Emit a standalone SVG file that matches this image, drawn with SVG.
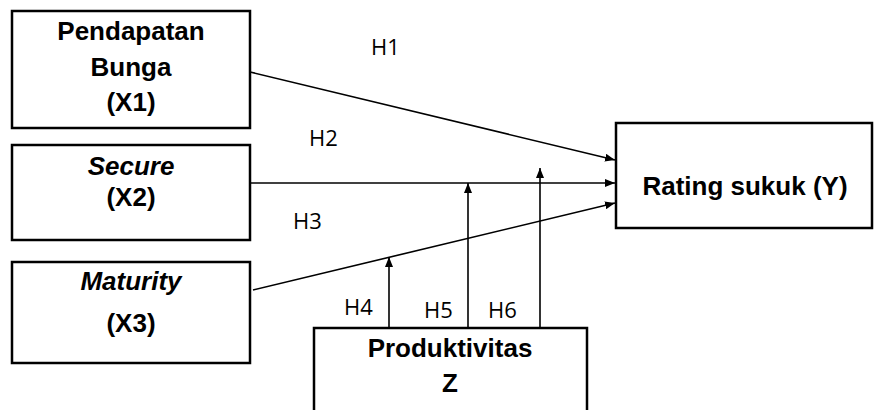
<svg xmlns="http://www.w3.org/2000/svg" width="874" height="410" viewBox="0 0 874 410">
<style>
.box{fill:#fff;stroke:#000;stroke-width:2.5}
.nt{font-family:"Liberation Sans",Arial,sans-serif;font-weight:bold;font-size:26px;text-anchor:middle;fill:#000}
.it{font-style:italic}
.lb{font-family:"Open Sans","Liberation Sans",sans-serif;font-size:22px;fill:#000}
.cn{stroke:#000;stroke-width:1.6;fill:none;marker-end:url(#ah)}
</style>
<defs>
<marker id="ah" viewBox="0 0 10 8" refX="10" refY="4" markerWidth="10" markerHeight="8" markerUnits="userSpaceOnUse" orient="auto">
<path d="M0,0 L10,4 L0,8 z" fill="#000"/>
</marker>
</defs>
<g id="x1"><rect class="box" x="12" y="11" width="238" height="117"/>
<text class="nt" x="131" y="40">Pendapatan</text>
<text class="nt" x="131" y="76">Bunga</text>
<text class="nt" x="131" y="111">(X1)</text></g>
<g id="x2"><rect class="box" x="12" y="145" width="238" height="95"/>
<text class="nt it" x="131" y="175">Secure</text>
<text class="nt" x="131" y="206">(X2)</text></g>
<g id="x3"><rect class="box" x="12" y="262" width="238" height="101"/>
<text class="nt it" x="131" y="290">Maturity</text>
<text class="nt" x="131" y="332">(X3)</text></g>
<g id="y"><rect class="box" x="616" y="123" width="256" height="105"/>
<text class="nt" x="745" y="195" font-size="27">Rating sukuk (Y)</text></g>
<g id="z"><rect class="box" x="314" y="328" width="273" height="90"/>
<text class="nt" x="450" y="357">Produktivitas</text>
<text class="nt" x="450" y="392">Z</text></g>
<g id="connectors">
<line class="cn" x1="250" y1="72" x2="615" y2="160"/>
<line class="cn" x1="250" y1="183" x2="615" y2="183"/>
<line class="cn" x1="253" y1="290" x2="615" y2="203"/>
<line class="cn" x1="389" y1="328" x2="389" y2="257"/>
<line class="cn" x1="468" y1="328" x2="468" y2="183"/>
<line class="cn" x1="540" y1="328" x2="540" y2="168"/>
</g>
<g id="labels">
<text class="lb" x="371" y="55">H1</text>
<text class="lb" x="309" y="146">H2</text>
<text class="lb" x="293" y="229">H3</text>
<text class="lb" x="344" y="315">H4</text>
<text class="lb" x="424" y="318">H5</text>
<text class="lb" x="488" y="318">H6</text>
</g>
</svg>
